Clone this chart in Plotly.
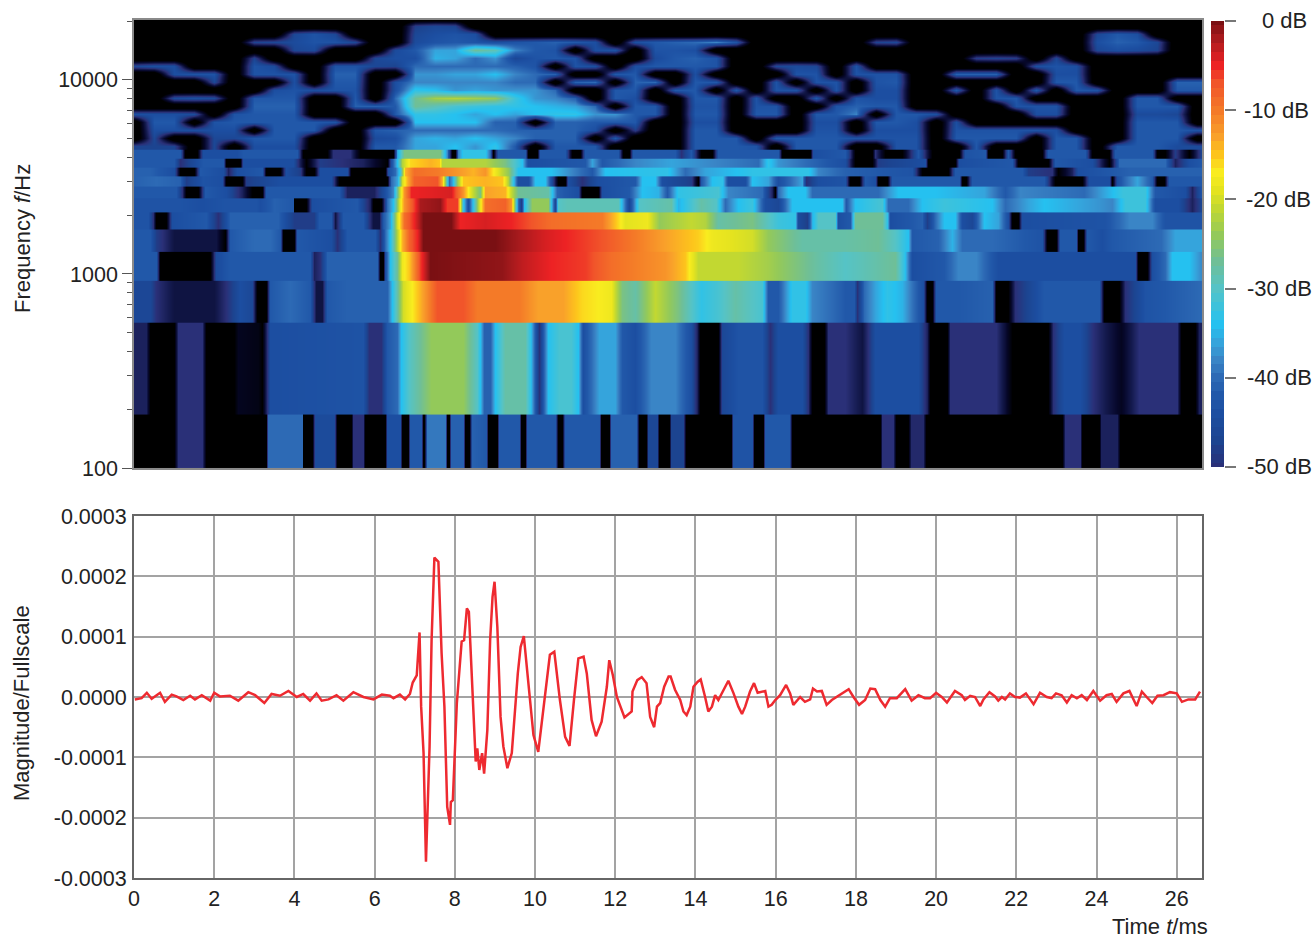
import plotly.graph_objects as go

K = -60  # below the scale: drawn black

# ---------- spectrogram bands: (time ms, level dB) ----------
band_edges_hz = [100, 189, 566, 930, 1310, 1700, 2090, 2470, 2850, 3200, 3570, 3960, 4350]

band_0 = [(0,K),(1.0,K),(1.1,-50),(1.7,-50),(1.8,K),(3.1,K),(3.28,K),(3.35,-40),(4.18,-40),(4.22,K),(4.45,K),(4.52,-45),(4.98,-45),(5.06,K),(5.4,K),(5.46,-50),(5.7,-50),(5.76,K),(6.25,K),(6.32,-44),(6.62,-44),(6.68,K),(6.82,K),(6.88,-42),(7.15,-42),(7.2,K),(7.24,K),(7.3,-39),(7.75,-39),(7.8,K),(7.86,K),(7.9,-41),(8.2,-41),(8.25,K),(8.35,K),(8.42,-41),(8.78,-42),(8.83,K),(9.05,K),(9.1,-42),(9.6,-42),(9.66,K),(9.75,K),(9.8,-42),(10.5,-42),(10.56,K),(10.68,K),(10.74,-42),(11.6,-42),(11.65,K),(11.85,K),(11.9,-41),(12.52,-41),(12.58,K),(12.76,K),(12.82,-46),(13.05,-46),(13.1,K),(13.33,K),(13.4,-47),(13.7,-47),(13.76,K),(14.88,K),(14.94,-43),(15.4,-43),(15.45,K),(15.68,K),(15.74,-42),(16.33,-42),(16.4,K),(18.6,K),(18.66,-50),(18.93,-50),(19.0,K),(19.3,K),(19.38,-51),(19.68,-51),(19.75,K),(23.15,K),(23.22,-50),(23.58,-50),(23.65,K),(24.05,K),(24.12,-52),(24.5,-52),(24.58,K),(26.63,K)]
band_1 = [(0,-52),(0.3,-52),(0.4,K),(1.0,K),(1.1,-50),(1.7,-50),(1.8,K),(2.5,K),(2.6,-57),(3.1,-58),(3.2,K),(3.38,-44),(5.7,-43),(5.85,-50),(6.15,-50),(6.3,-42),(6.55,-40),(6.65,-34),(6.85,-30),(7.4,-24),(8.2,-24),(8.55,-30),(8.63,-34),(8.72,-41),(8.88,-41),(9.0,-34),(9.25,-28),(9.75,-28),(9.87,-33),(10.0,-42),(10.1,-50),(10.2,-42),(10.33,-34),(10.6,-31),(10.9,-31),(11.08,-34),(11.2,-44),(11.4,-40),(11.6,-36),(11.99,-36),(12.16,-42),(12.5,-44),(12.9,-38),(13.5,-38),(13.9,-44),(14.05,-52),(14.12,K),(14.57,K),(14.67,-46),(15.07,-43),(15.65,-43),(15.86,-50),(16.07,-44),(16.65,-44),(16.8,-50),(16.9,K),(17.2,K),(17.3,-50),(17.73,-50),(18.15,-54),(18.3,-50),(18.48,-44),(19.55,-44),(19.77,-52),(19.85,K),(20.27,K),(20.35,-50),(21.5,-50),(21.72,-55),(21.9,K),(22.8,K),(22.92,-50),(23.2,-44),(23.6,-44),(23.9,-50),(24.3,-54),(24.6,-57),(25.05,-50),(26.0,-50),(26.1,K),(26.45,K),(26.55,-52),(26.63,-52)]
band_2 = [(0,-46),(0.4,-46),(0.55,-50),(1.0,-54),(2.0,-54),(2.3,-50),(2.65,-44),(2.95,-46),(3.06,K),(3.3,K),(3.4,-42),(3.9,-40),(4.4,-42),(4.55,-54),(4.7,-54),(4.8,-42),(5.3,-41),(6.3,-41),(6.43,-34),(6.55,-28),(6.7,-20),(6.92,-17),(7.13,-14),(7.55,-7),(8.2,-7),(8.55,-10),(9.6,-10),(10.08,-13),(10.7,-13),(11.16,-16),(11.57,-17),(11.9,-18),(12.16,-26),(12.5,-28),(13.0,-21),(13.57,-26),(14.15,-33),(14.57,-31),(14.98,-28),(15.65,-31),(15.8,-42),(16.07,-42),(16.4,-33),(16.73,-33),(16.9,-38),(17.4,-40),(17.73,-42),(17.95,-42),(18.02,-50),(18.2,-40),(18.48,-36),(18.77,-33),(19.15,-35),(19.56,-42),(19.68,-44),(19.77,K),(19.9,K),(20.0,-42),(20.55,-42),(21.4,-41),(21.5,K),(21.8,K),(21.97,-50),(22.7,-42),(24.05,-42),(24.18,K),(24.55,K),(24.7,-50),(25.2,-43),(26.63,-40)]
band_3 = [(0,-42),(0.55,-42),(0.65,K),(1.9,K),(2.05,-45),(2.4,-42),(4.4,-42),(4.5,-52),(4.65,-50),(4.8,-41),(6.05,-41),(6.13,K),(6.2,K),(6.26,-44),(6.38,-34),(6.55,-27),(6.68,-18),(6.85,-15),(7.13,-6),(7.38,0),(9.17,-1),(9.67,-3),(10.41,-5),(11.25,-6),(11.9,-9),(13.24,-12),(13.74,-15),(13.9,-18),(14.07,-21),(15.07,-21),(15.8,-23),(17.07,-28),(17.73,-30),(18.97,-27),(19.2,-33),(19.4,-44),(20.2,-42),(20.55,-38),(21.0,-38),(21.55,-44),(24.95,-44),(25.03,K),(25.25,K),(25.38,-44),(25.7,-40),(25.87,-34),(26.3,-34),(26.63,-38)]
band_4 = [(0,-42),(0.4,-42),(0.55,-48),(1.0,-54),(2.05,-54),(2.27,K),(2.4,-42),(3.0,-40),(3.4,-40),(3.65,-42),(3.72,K),(4.0,K),(4.06,-42),(4.9,-44),(5.05,-50),(5.3,-42),(6.0,-42),(6.13,-50),(6.26,-40),(6.38,-34),(6.55,-22),(6.68,-14),(6.85,-8),(7.05,-5),(7.2,0),(9.0,0),(9.6,-2),(10.25,-4),(10.75,-5),(11.66,-7),(12.5,-10),(13.24,-13),(14.07,-15.5),(14.4,-18),(15.4,-20),(15.8,-24),(16.65,-28),(17.73,-28),(18.55,-27),(18.97,-30),(19.3,-34),(19.4,-42),(20.05,-41),(20.4,-35),(20.65,-40),(21.4,-40),(22.63,-43),(22.77,K),(23.0,K),(23.1,-42),(23.5,-42),(23.55,K),(23.67,K),(23.75,-42),(24.13,-44),(24.38,-42),(25.6,-40),(25.95,-36),(26.63,-36)]
band_5 = [(0,-43),(0.35,-43),(0.48,-50),(0.55,K),(0.8,K),(0.95,-44),(1.8,-42),(2.1,-50),(2.4,-41),(3.6,-41),(4.0,-48),(4.5,-48),(4.62,-42),(4.9,-42),(5.0,-54),(5.2,-42),(5.7,-42),(5.97,-54),(6.1,-54),(6.22,-42),(6.38,-36),(6.55,-20),(6.72,-9),(6.97,-5),(7.2,0),(7.9,0),(8.13,-5),(8.75,-4),(9.4,-5),(10.4,-9),(11.66,-10),(12.08,-16),(12.24,-19),(12.8,-18),(13.1,-24),(13.9,-21),(14.24,-22),(14.57,-28),(15.4,-26),(16.07,-32),(16.48,-33),(16.56,-45),(16.77,-48),(16.9,-35),(17.06,-30),(17.48,-30),(17.56,-44),(17.85,-42),(17.98,-27),(18.65,-27),(18.77,-33),(18.85,-44),(19.65,-41),(19.77,-48),(19.97,-40),(20.2,-34),(20.47,-34),(20.65,-44),(20.9,-46),(21.2,-34),(21.55,-36),(21.8,-44),(21.9,K),(22.05,K),(22.13,-44),(24.2,-43),(24.8,-38),(25.38,-38),(25.71,-43),(26.63,-43)]
band_6 = [(0,-43),(1.15,-43),(1.7,-44),(2.25,-43),(3.05,-43),(3.15,-44),(3.5,-41),(3.97,-42),(4.0,K),(4.3,K),(4.43,-44),(5.55,-42),(5.88,-52),(5.97,K),(6.17,K),(6.3,-40),(6.47,-34),(6.6,-20),(6.72,-12),(6.97,-6),(7.13,-2),(7.63,-1),(7.8,-6),(8.05,-6),(8.13,-18),(8.21,-33),(8.33,-44),(8.46,-33),(8.58,-22),(8.75,-9),(9.25,-8),(9.4,-12),(9.46,-19),(9.58,-40),(9.65,-48),(9.73,-34),(9.92,-24),(10.33,-24),(10.5,-46),(10.58,-30),(10.8,-29),(12.08,-29),(12.33,-46),(12.58,-30),(13.4,-28),(13.57,-35),(14.15,-28),(14.5,-30),(14.73,-40),(15.07,-34),(15.4,-32),(15.73,-44),(16.07,-46),(16.4,-34),(17.65,-34),(17.75,-42),(17.98,-34),(18.65,-31),(18.81,-40),(19.3,-40),(19.64,-34),(20.2,-32),(21.4,-34),(21.72,-40),(22.3,-36),(22.7,-34),(24.05,-37),(24.38,-38),(24.7,-32),(25.2,-32),(25.46,-44),(26.04,-44),(26.37,-52),(26.63,-46)]
band_7 = [(0,-42),(1.05,-42),(1.2,-50),(1.3,K),(1.6,K),(1.78,-42),(2.3,-44),(2.7,-52),(2.95,K),(3.2,K),(3.3,-42),(5.1,-42),(5.3,-52),(5.98,-52),(6.3,-42),(6.47,-38),(6.6,-22),(6.72,-12),(6.9,-5),(7.9,-4),(8.2,-12),(8.38,-19),(8.62,-26),(8.75,-13),(9.25,-14),(9.37,-20),(9.58,-27),(10.33,-28),(10.55,-41),(11.08,-44),(11.16,K),(11.58,K),(11.66,-44),(12.33,-42),(12.66,-34),(13.07,-35),(13.3,-42),(13.57,-33),(14.57,-31),(14.8,-38),(15.65,-40),(15.9,-52),(15.98,K),(16.07,-40),(16.3,-34),(16.73,-34),(16.9,-40),(18.56,-40),(19.06,-34),(19.97,-34),(21.2,-36),(21.72,-42),(22.1,-38),(23.7,-40),(24.65,-32),(25.2,-32),(25.46,-42),(26.2,-44),(26.37,-52),(26.63,-42)]
band_8 = [(0,-41),(0.55,-40),(1.15,-41),(1.3,-48),(1.73,-43),(2.2,-44),(2.3,K),(2.7,K),(2.8,-48),(3.65,-44),(4.9,-44),(5.1,K),(6.3,K),(6.42,-40),(6.55,-36),(6.68,-20),(6.8,-14),(6.97,-8),(7.55,-7),(7.67,-14),(7.75,-24),(7.85,-40),(7.92,-36),(8.05,-24),(8.21,-15),(8.75,-14),(9.17,-15),(9.33,-22),(9.58,-44),(9.83,-44),(10.0,-34),(10.25,-34),(10.41,-44),(10.58,K),(10.75,K),(10.83,-44),(11.16,-50),(11.58,-44),(12.49,-42),(12.66,-34),(13.0,-34),(13.16,-44),(13.9,-48),(14.07,K),(14.15,-42),(14.4,-34),(14.65,-33),(14.82,-44),(15.23,-44),(15.4,-34),(15.82,-36),(16.07,-44),(16.65,-36),(16.75,-50),(17.06,-44),(17.73,-43),(17.85,K),(18.07,K),(18.23,-42),(18.48,-44),(18.56,K),(18.77,K),(18.9,-42),(20.56,-42),(20.64,K),(20.75,K),(20.89,-42),(22.7,-42),(22.97,K),(23.63,K),(23.8,-44),(24.3,-44),(24.38,K),(24.5,-44),(24.7,-40),(25.0,-36),(25.38,-42),(25.5,K),(25.67,K),(25.8,-42),(26.63,-42)]
band_9 = [(0,-41),(0.4,-41),(1.0,-44),(1.15,K),(1.5,K),(1.65,-42),(2.23,-44),(2.35,-52),(2.56,-44),(3.2,-42),(3.3,K),(3.65,K),(3.8,-44),(4.15,-48),(4.3,K),(4.5,K),(4.64,-44),(5.3,-44),(5.4,K),(6.26,K),(6.34,-44),(6.5,-40),(6.63,-32),(6.76,-14),(6.97,-9),(7.55,-10),(8.0,-12),(8.45,-14),(8.75,-12),(9.0,-18),(9.33,-24),(9.58,-34),(10.4,-34),(11.41,-42),(11.75,-34),(13.3,-33),(13.74,-40),(14.24,-36),(15.4,-33),(16.8,-33),(17.06,-38),(17.73,-41),(19.4,-43),(19.65,K),(20.3,K),(20.47,-42),(22.13,-42),(22.3,-48),(22.88,-50),(23.05,K),(23.4,-52),(23.55,-44),(24.8,-41),(26.63,-41)]
band_10 = [(0,-42),(1.0,-42),(1.15,-50),(1.73,-42),(2.23,-42),(2.3,K),(2.65,K),(2.73,-44),(3.97,-44),(4.3,K),(4.64,-48),(5.7,-52),(6.3,K),(6.42,-44),(6.55,-34),(6.68,-22),(6.88,-16),(7.38,-14),(7.6,-15),(7.67,-22),(8.75,-22),(9.25,-26),(9.67,-34),(9.83,-44),(11.25,-42),(11.41,-36),(11.66,-42),(12.49,-38),(13.4,-36),(15.57,-40),(15.82,-33),(16.07,-37),(17.73,-44),(17.98,K),(18.4,K),(18.56,-48),(19.73,-44),(19.8,K),(20.47,K),(20.56,-44),(21.89,-42),(22.05,K),(22.8,K),(22.97,-42),(23.88,-44),(24.3,K),(24.55,-40),(25.71,-40),(25.96,-52),(26.3,-44),(26.63,-42)]
band_11 = [(0,-42),(1.15,-42),(1.27,K),(1.56,K),(1.73,-44),(2.56,-44),(2.73,-42),(4.06,-42),(4.22,K),(4.8,K),(4.97,-50),(5.39,-50),(5.64,K),(6.47,K),(6.55,-36),(6.72,-26),(7.63,-26),(7.8,-38),(7.92,K),(8.0,K),(8.09,-38),(8.21,-33),(8.75,-33),(8.87,-40),(8.96,K),(9.08,-42),(9.75,-42),(9.83,K),(10.04,K),(10.12,-42),(10.75,-42),(10.91,K),(11.12,K),(11.24,-42),(12.08,-42),(12.2,K),(12.33,K),(12.45,-42),(13.49,-42),(13.65,-50),(13.9,-42),(14.15,K),(14.4,K),(14.57,-42),(16.07,-42),(16.15,K),(16.85,K),(16.93,-44),(17.73,-42),(17.85,-50),(17.98,K),(18.39,K),(18.48,-50),(18.73,K),(19.14,K),(19.56,-42),(19.89,K),(20.56,K),(20.72,-43),(21.22,-42),(21.3,K),(21.64,K),(21.8,-42),(21.97,K),(22.63,K),(22.8,-42),(23.72,-42),(23.88,K),(24.3,K),(24.46,-42),(25.38,-42),(25.5,K),(25.71,K),(25.96,-48),(26.3,K),(26.63,-46)]
bands = [band_0, band_1, band_2, band_3, band_4, band_5, band_6, band_7, band_8, band_9, band_10, band_11]

# ---------- upper spectrogram: one row per frequency, one value per 0.5 ms ----------
K = -66  # a little below the scale here, so the streaks keep black gaps with soft edges
hf_times = [0,0.5,1,1.5,2,2.5,3,3.5,4,4.5,5,5.5,6,6.5,7,7.5,8,8.5,9,9.5,10,10.5,11,11.5,12,12.5,13,13.5,14,14.5,15,15.5,16,16.5,17,17.5,18,18.5,19,19.5,20,20.5,21,21.5,22,22.5,23,23.5,24,24.5,25,25.5,26,26.5]
hf_freqs = [4571,5023,5521,6078,6683,7345,8076,8872,9772,10740,11800,12970,14290,15700,17260,18970,20900]
hf_4571 = [-47,-47,-47,K,-46,K,-44,-44,-44,K, K,K,-42,-42,-36,-36,-34,-37,-33,-42, K,-42,-42,-42,K,K,K,K,-42,-42, -42,-43,K,-42,-42,-42,K,K,-43,-43, K,K,-42,K,K,K,-42,-42,K,-42, -42,-42,-45,-45]
hf_5023 = [K,-46,K,K,-46,-46,-42,-42,-42,K, K,K,-45,-44,-36,-35,-36,-34,-36,-38, -41,-41,-41,K,-42,K,K,K,-42,-42, -42,K,-42,-42,-42,-42,-43,-43,-43,-43, K,-42,-42,-42,-42,K,-42,-42,K,K, -42,-42,-42,K]
hf_5521 = [K,-44,-44,-44,-44,-44,K,-42,-42,-42, K,K,-42,-41,-40,-40,-40,-40,-40,-41, -41,-41,-41,-44,K,-48,K,K,-42,-42, K,K,K,K,-43,-43,K,-44,-44,-44, K,-43,-43,-43,-43,-43,-44,K,K,K, -42,-42,-42,-43]
hf_6078 = [K,-42,-42,K,-43,-42,-42,-42,-42,-42, -43,K,K,K,-34,-34,-34,-34,-41,-41, K,-41,-41,-42,-42,-42,K,K,-44,-44, K,K,K,K,-44,-44,K,-42,-42,-44, K,-44,K,K,K,K,K,K,K,K, -42,-42,-42,K]
hf_6683 = [-44,-44,-44,-45,K,-43,-42,-42,-42,K, K,K,K,-42,-33,-33,-34,-36,-34,-36, -34,-33,-33,-37,-37,-42,-42,K,-42,-42, K,-42,-42,K,-42,-42,-38,K,-42,-42, -44,K,K,K,K,-44,-44,K,K,K, -45,-45,-46,K]
hf_7345 = [K,K,K,K,K,K,-41,-41,-41,K, K,-41,-41,-42,-27,-29,-31,-32,-33,-33, -34,-35,-36,-40,K,-42,-42,K,-43,-43, K,-43,-43,K,K,-43,-41,-42,-42,K, K,K,K,K,-43,-43,-43,K,K,K, -42,-42,-42,K]
hf_8076 = [K,K,-45,-44,-45,K,-42,-42,-42,K, K,-42,K,-40,-27,-23,-22,-23,-24,-32, -37,-38,-41,K,-42,-44,K,K,-42,-42, K,-43,K,K,-42,K,-43,-44,-44,K, K,K,K,-43,-42,K,K,K,K,K, -42,-42,K,K]
hf_8872 = [K,K,K,K,K,K,K,-44,-43,-44, -43,-43,K,-44,-33,-34,-37,-36,-37,-37, -37,-40,K,K,-42,-42,K,-42,-42,K, -42,K,-43,-43,K,-43,K,-44,-44,K, K,-42,K,-43,K,-42,K,-42,-43,K, K,K,-42,-42]
hf_9772 = [K,K,K,K,-46,K,K,K,-44,K, -42,-42,K,-44,-38,-38,-38,-38,-38,-40, -40,K,-41,-40,K,-41,-40,K,-42,-42, K,K,-43,K,-43,-43,K,-43,-42,K, K,K,K,K,K,K,-42,-42,K,K, K,K,-41,-41]
hf_10740 = [K,K,-44,-43,-43,K,-43,-43,-43,K, -41,-41,K,K,-37,-37,-36,-36,-34,-38, -40,-41,K,K,-42,-42,K,K,-44,K, K,K,K,-43,-43,K,-43,-43,-43,K, K,-41,-41,-41,K,K,-44,-44,K,K, K,K,K,K]
hf_11800 = [-46,-44,-44,K,K,K,-43,-45,K,K, -43,-43,-46,-47,-40,-40,-40,-40,-40,-41, -43,K,-43,-44,K,-44,-42,-42,-42,-43, K,K,-46,-45,-46,K,-43,K,K,K, K,K,K,K,K,-44,-43,-44,K,K, K,K,K,K]
hf_12970 = [K,K,K,K,K,K,-47,K,K,K, K,K,-46,-44,-44,-35,-36,-40,-37,-46, -43,-42,-43,K,K,K,-45,-42,-41,-43, K,K,K,K,K,K,K,K,K,K, K,K,-48,-47,-48,K,-46,K,K,K, K,K,K,K]
hf_14290 = [K,K,K,K,K,K,K,K,-46,-45, K,K,K,-45,-42,-36,-36,-27,-29,-38, -42,-43,K,-44,-43,K,-43,-43,-44,K, K,K,K,K,K,K,K,K,K,K, K,K,K,K,K,K,K,K,-46,-44, -45,-47,K,K]
hf_15700 = [K,K,K,K,K,K,-47,-46,-45,-43, -43,-46,K,K,-45,-43,-42,-43,-44,-43, -42,-41,-42,-44,K,-44,-42,-41,-40,-38, -43,K,K,K,K,K,K,-47,-46,K, K,K,K,K,K,K,K,K,-44,-41, -42,-46,K,K]
hf_17260 = [K,K,K,K,K,K,K,K,-46,-43, -46,K,K,K,-46,-44,-43,-44,K,K, K,K,K,K,K,K,K,K,K,K, K,K,K,K,K,K,K,K,K,K, K,K,K,K,K,K,K,K,-46,-42, -44,K,K,K]
hf_18970 = [K,K,K,K,K,K,K,K,K,K, K,K,K,K,-48,-46,-47,K,K,K, K,K,K,K,K,K,K,K,K,K, K,K,K,K,K,K,K,K,K,K, K,K,K,K,K,K,K,K,K,K, K,K,K,K]
hf_20900 = [K] * 54
hf_rows = [hf_4571, hf_5023, hf_5521, hf_6078, hf_6683, hf_7345, hf_8076, hf_8872, hf_9772, hf_10740, hf_11800, hf_12970, hf_14290, hf_15700, hf_17260, hf_18970, hf_20900]

# ---------- waveform (ms, units of 1e-4 of full scale) ----------
wave_t = [0.02,0.19,0.32,0.44,0.65,0.77,0.94,1.06,1.23,1.40,1.52,1.69,1.90,2.0,2.14,2.39,2.6,2.85,3.02,3.25,3.43,3.64,3.85,4.06,4.22,4.39,4.55,4.68,4.85,5.05,5.22,5.47,5.72,5.97,6.18,
 6.38,6.47,6.63,6.76,6.88,6.95,7.05,7.12,7.16,7.22,7.28,7.37,7.42,7.49,7.59,7.67,7.74,7.81,7.88,7.90,7.95,8.05,8.10,8.17,8.23,8.30,8.35,8.45,8.52,8.56,8.61,8.68,8.73,8.81,8.88,8.94,8.99,9.06,9.14,9.21,9.31,9.42,9.50,9.57,9.64,9.72,9.81,9.96,10.08,10.17,10.29,10.37,10.48,10.62,10.75,10.86,10.97,11.08,11.21,11.29,11.41,11.52,11.66,11.79,11.85,11.94,12.04,12.23,12.41,12.43,12.55,12.66,12.78,12.87,
 12.97,13.04,13.12,13.22,13.33,13.38,13.49,13.62,13.70,13.78,13.87,13.95,14.05,14.13,14.24,14.32,14.41,14.49,14.57,14.66,14.74,14.82,14.95,15.07,15.16,15.24,15.36,15.46,15.55,15.74,15.82,15.90,15.99,16.11,16.26,16.36,16.44,16.61,16.73,16.86,16.93,17.03,17.15,17.27,17.40,17.52,17.69,17.82,17.94,18.08,18.23,18.36,18.48,18.61,18.73,18.85,19.02,19.23,19.39,19.56,
 19.6,19.72,19.85,20.0,20.14,20.27,20.47,20.64,20.72,20.85,20.97,21.10,21.18,21.33,21.47,21.55,21.64,21.72,21.84,21.97,22.09,22.24,22.43,22.59,22.76,22.88,22.99,23.13,23.26,23.38,23.51,23.63,23.76,23.92,24.09,24.25,24.38,24.50,24.67,24.82,25.0,25.13,25.25,25.39,25.52,25.67,25.83,26.0,26.13,26.29,26.46,26.58]
wave_e4 = [-0.04,-0.02,0.07,-0.03,0.07,-0.08,0.04,0.01,-0.05,0.02,-0.04,0.03,-0.06,0.07,0.01,0.02,-0.06,0.08,0.03,-0.10,0.05,0.02,0.10,0,0.05,-0.06,0.06,-0.06,-0.04,0.03,-0.06,0.08,0,-0.04,0.04,
 0.02,-0.02,0.04,-0.04,0.05,0.24,0.36,1.07,-0.16,-0.93,-2.73,-0.82,0.94,2.31,2.24,0.72,-0.16,-1.82,-2.12,-1.74,-1.71,-0.10,0.39,0.92,0.94,1.47,1.41,-0.16,-1.07,-0.85,-1.21,-0.93,-1.27,-0.55,0.94,1.66,1.91,1.16,-0.33,-0.82,-1.18,-0.93,-0.22,0.39,0.83,1.01,0.39,-0.63,-0.91,-0.38,0.28,0.70,0.75,-0.05,-0.66,-0.81,-0.05,0.64,0.67,0.39,-0.38,-0.65,-0.41,0.17,0.61,0.36,0.0,-0.34,-0.24,0.09,0.28,0.33,0.23,-0.33,
 -0.50,-0.16,-0.10,0.17,0.34,0.34,0.12,-0.05,-0.24,-0.30,-0.16,0.17,0.25,0.29,0.0,-0.24,-0.16,0.03,-0.05,0.06,0.17,0.27,0.06,-0.16,-0.28,-0.16,0.09,0.23,0.07,0.10,-0.16,-0.13,-0.05,0.03,0.20,0.06,-0.13,0.0,-0.08,-0.04,0.14,0.09,0.10,-0.13,-0.05,0.0,0.07,0.13,0.0,-0.13,-0.05,0.14,0.13,-0.05,-0.16,-0.02,-0.02,0.13,-0.06,0.03,
 0.02,-0.02,-0.02,0.07,0.0,-0.09,0.10,0.03,-0.05,0.02,0.0,-0.15,-0.04,0.08,0.01,-0.06,0.0,-0.04,0.06,0.0,-0.01,0.06,-0.12,0.07,0,-0.02,0.06,0.03,-0.09,0.03,-0.02,0.03,-0.05,0.10,-0.06,0.03,0.05,-0.08,0.06,0.10,-0.15,0.09,0,-0.10,0.02,0.03,0.08,0.06,-0.08,-0.04,-0.04,0.09]

# ---------- labels ----------
freq_ticks = [100, 1000, 10000]
freq_minor = [200,300,400,500,600,700,800,900,2000,3000,4000,5000,6000,7000,8000,9000,20000]
mag_ticks = [0.0003,0.0002,0.0001,0,-0.0001,-0.0002,-0.0003]
mag_labels = ["0.0003","0.0002","0.0001","0.0000","-0.0001","-0.0002","-0.0003"]
time_ticks = list(range(0, 27, 2))
cbar_ticks = [0,-10,-20,-30,-40,-50]
cbar_labels = ["0 dB","-10 dB","-20 dB","-30 dB","-40 dB","-50 dB"]
cbar_levels = [-50,-49,-48,-47,-46,-45,-44,-43,-42,-41,-40,-39,-38,-37,-36,-35,-34,-33,-32,-31,-30,-29,-28,-27,-26,-25,-24,-23,-22,-21,-20,-19,-18,-17,-16,-15,-14,-13,-12,-11,-10,-9,-8,-7,-6,-5,-4,-3,-2,-1,0]

# ---------- style ----------
W, H = 1314, 940
FONT = "Liberation Sans"
TXT = "#222222"
ZMIN, ZMAX = -60, 0
stop_db = [-60,-56,-53,-50,-47,-44,-42,-40,-38,-36,-34,-30,-27,-24,-21,-19,-17,-15,-13,-10,-7,-5,-2,0]
stop_col = ["#000000","#06072a","#141a4e","#2a3078","#1c4490","#1c4ea1","#2158a9","#2d6ab5","#3a85c6","#35a4dc","#25c1f0","#55c3c6","#6fbf97","#93c95a","#c2d831","#e4e31f","#f9ec1f","#fdc41c","#f9a12a","#f47a28","#f1552a","#ed2224","#a81a1d","#7a1013"]
cscale = [[(d - ZMIN) / (ZMAX - ZMIN), c] for d, c in zip(stop_db, stop_col)]

def dx(px): return px / W
def dy(px): return 1 - px / H

fig = go.Figure()
common = dict(colorscale=cscale, zmin=ZMIN, zmax=ZMAX, showscale=False, hoverinfo="skip")

# upper part first, then the low bands on top; bands overlap a touch so no seam shows
fig.add_trace(go.Heatmap(x=hf_times, y=hf_freqs, z=hf_rows, zsmooth="best", xaxis="x", yaxis="y", **common))
for i, band in enumerate(bands):
    lo, hi = band_edges_hz[i], band_edges_hz[i + 1]
    row = [p[1] for p in band]
    fig.add_trace(go.Heatmap(x=[p[0] for p in band], y=[lo * 0.997, lo, hi, hi * 1.003],
                             z=[row, row, row, row], zsmooth="best", xaxis="x", yaxis="y", **common))

# colour strip
fig.add_trace(go.Heatmap(x=[0, 1], y=cbar_levels, z=[[v, v] for v in cbar_levels], xaxis="x3", yaxis="y3", **common))

# waveform
fig.add_trace(go.Scatter(x=wave_t, y=[v * 1e-4 for v in wave_e4], mode="lines", xaxis="x2", yaxis="y2",
                         line=dict(color="#ee2a30", width=2.5), hoverinfo="skip", showlegend=False))

frame = "#8a8a8a"
annots = []
for val, lab, px in zip(cbar_ticks, cbar_labels, [1309, 1311, 1313, 1314, 1314, 1314]):
    annots.append(dict(x=dx(px), xref="paper", y=val, yref="y3", text=lab, showarrow=False, xanchor="right",
                       yanchor="middle", font=dict(family=FONT, size=22, color=TXT)))
annots += [
    dict(x=dx(22), y=dy(239), xref="paper", yref="paper", text="Frequency <i>f</i>/Hz", textangle=-90, showarrow=False,
         xanchor="center", yanchor="middle", font=dict(family=FONT, size=22, color=TXT)),
    dict(x=dx(21), y=dy(703), xref="paper", yref="paper", text="Magnitude/Fullscale", textangle=-90, showarrow=False,
         xanchor="center", yanchor="middle", font=dict(family=FONT, size=22, color=TXT)),
    dict(x=dx(1160), y=dy(926), xref="paper", yref="paper", text="Time <i>t</i>/ms", showarrow=False,
         xanchor="center", yanchor="middle", font=dict(family=FONT, size=22, color=TXT)),
]

tick_font = dict(size=21.5, family=FONT, color=TXT)
fig.update_layout(
    width=W, height=H, margin=dict(l=0, r=0, t=0, b=0, autoexpand=False), paper_bgcolor="white", plot_bgcolor="white",
    showlegend=False, annotations=annots, font=dict(family=FONT, size=21, color=TXT),
    xaxis=dict(domain=[dx(134), dx(1202)], range=[0, 26.63], showticklabels=False, ticks="", showgrid=False,
               zeroline=False, anchor="y", showline=True, mirror=True, linecolor=frame, linewidth=1.5),
    yaxis=dict(domain=[dy(468), dy(20)], type="log", range=[2, 4.309], tickvals=freq_ticks, ticktext=[str(v) for v in freq_ticks],
               ticks="outside", ticklen=10, tickcolor="#555555", tickwidth=1, showgrid=False, zeroline=False,
               minor=dict(tickvals=freq_minor, ticks="outside", ticklen=5, tickcolor="#555555", tickwidth=1, showgrid=False),
               showline=True, mirror=True, linecolor=frame, linewidth=1.5, anchor="x", tickfont=tick_font),
    xaxis2=dict(domain=[dx(134), dx(1202)], range=[0, 26.63], tickvals=time_ticks, ticks="", ticklabelstandoff=0,
                showgrid=True, gridcolor="#a3a3a3", gridwidth=1.5, zeroline=False, anchor="y2", showline=True, mirror=True,
                linecolor="#666666", linewidth=2, tickfont=tick_font),
    yaxis2=dict(domain=[dy(878), dy(516)], range=[-0.0003, 0.0003], tickvals=mag_ticks, ticktext=mag_labels, ticks="",
                ticklabelstandoff=1, showgrid=True, gridcolor="#a3a3a3", gridwidth=1.5, zeroline=False, anchor="x2", showline=True,
                mirror=True, linecolor="#666666", linewidth=2, tickfont=tick_font),
    xaxis3=dict(domain=[dx(1211), dx(1224)], range=[0, 1], visible=False, anchor="y3"),
    yaxis3=dict(domain=[dy(467), dy(21)], range=[-50, 0], side="right", anchor="x3", tickvals=cbar_ticks, ticks="outside",
                ticklen=11, tickcolor="#777777", tickwidth=1.5, showticklabels=False, showgrid=False, zeroline=False, showline=False),
)

fig.write_html("out.html", config=dict(displayModeBar=False), post_script="document.body.style.margin='0';")
